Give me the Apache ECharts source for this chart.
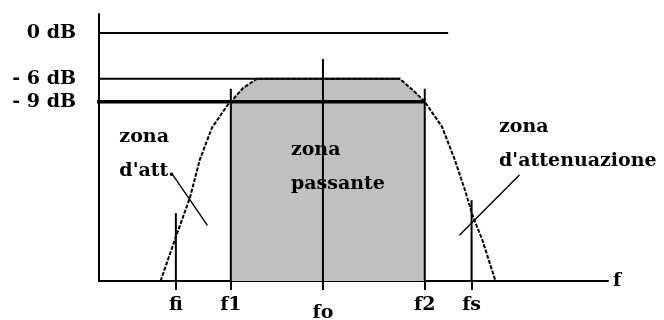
<!DOCTYPE html>
<html>
<head>
<meta charset="utf-8">
<script src="https://cdn.jsdelivr.net/npm/echarts@6/dist/echarts.min.js"></script>
<style>
  html, body { margin: 0; padding: 0; background: #fff; }
  #main { width: 664px; height: 320px; }
</style>
</head>
<body>
<div id="main"></div>
<script>
// levels (dB) and their labels
const levelDb = [0, -6, -9]
const levelLabels = ['0 dB', '- 6 dB', '- 9 dB']
const levelFrom = [-4.3, -3.1, -3.7]
const levelTo = [68.6, 59.1, 64.0]

// frequency markers (arbitrary units 0..100)
const freqNames = ['fi', 'f1', 'fo', 'f2', 'fs']
const freqPos = [15.1, 25.9, 44.0, 64.0, 73.2]
const freqTop = [-23.6, -7.3, -3.4, -7.3, -21.9]

// filter response
const curveF = [12.1, 14.9, 17.9, 19.8, 22.2, 25.3, 25.9, 28.3, 31.0, 59.1, 61.7, 64.0, 67.4, 69.9, 71.9, 73.5, 75.3, 77.9]
const curveDb = [-32.5, -27.1, -21.5, -16.6, -12.4, -9.4, -9, -7.2, -6, -6, -7.5, -9, -12.3, -16.6, -20.6, -24.1, -27.1, -32.5]

// zone texts and pointers
const zoneText = ["zona\nd'att.", 'zona\npassante', "zona\nd'attenuazione"]
const zoneF = [4.0, 37.7, 78.6]
const zoneDb = [-15.9, -17.6, -14.6]
const pointers = [
  [[14.5, -18.6], [21.3, -25.2]],
  [[82.6, -18.6], [70.8, -26.5]]
]

const font = { fontFamily: 'DejaVu Serif', fontWeight: 'bold', fontSize: 19, color: '#000' }

const curve = curveF.map((f, i) => [f, curveDb[i]])
// pass band: from f1 (-9 dB) to f2 (-9 dB)
const band = curve.slice(6, 12)

const series = []
series.push({
  type: 'line', data: band, symbol: 'none', z: 1,
  lineStyle: { opacity: 0 },
  areaStyle: { color: '#c0c0c0', opacity: 1, origin: 'start' }
})
levelDb.forEach((d, i) => {
  series.push({
    type: 'line', symbol: 'none', clip: false, z: 3,
    data: [[levelFrom[i], d], [levelTo[i], d]],
    lineStyle: { color: '#000', width: d === -9 ? 3.5 : 2 }
  })
})
freqPos.forEach((f, i) => {
  series.push({
    type: 'line', symbol: 'none', z: 3,
    data: [[f, freqTop[i]], [f, -32.5]],
    lineStyle: { color: '#000', width: 2 }
  })
})
series.push({
  type: 'line', data: curve, symbol: 'none', clip: false, z: 4,
  lineStyle: { color: '#000', width: 2, type: [4, 1.5] }
})
pointers.forEach(p => {
  series.push({
    type: 'line', data: p, symbol: 'none', z: 4,
    lineStyle: { color: '#000', width: 1.4 }
  })
})
series.push({
  type: 'scatter', symbolSize: 0, clip: false, z: 5, silent: true,
  itemStyle: { color: '#000', opacity: 1 },
  data: zoneText.map((t, i) => ({ name: t, value: [zoneF[i], zoneDb[i]] })),
  label: {
    show: true, position: 'right', distance: 0, align: 'left', opacity: 1,
    lineHeight: 34, formatter: p => p.name, ...font
  }
})

const myChart = echarts.init(document.getElementById('main'))
const option = {
  animation: false,
  grid: { left: 99, right: 56, top: 14, bottom: 39, outerBoundsMode: 'none' },
  xAxis: {
    type: 'value', min: 0, max: 100,
    name: 'f', nameLocation: 'end', nameGap: 5,
    nameTextStyle: { ...font, verticalAlign: 'middle' },
    splitLine: { show: false },
    axisLine: { onZero: false, lineStyle: { color: '#000', width: 2 } },
    axisTick: { customValues: freqPos, length: 9, lineStyle: { color: '#000', width: 2 } },
    axisLabel: {
      customValues: freqPos, margin: 15, ...font,
      formatter: v => {
        const i = freqPos.indexOf(v)
        const n = freqNames[i]
        return n === 'fo' ? '{lo|' + n + '}' : n
      },
      rich: { lo: { ...font, padding: [8, 0, 0, 0] } }
    }
  },
  yAxis: {
    type: 'value', min: -32.5, max: 2.5,
    splitLine: { show: false },
    axisLine: { show: true, onZero: false, lineStyle: { color: '#000', width: 2 } },
    axisTick: { show: false },
    axisLabel: {
      customValues: levelDb, margin: 23, ...font,
      formatter: v => levelLabels[levelDb.indexOf(v)]
    }
  },
  series: series
}
option && myChart.setOption(option)
</script>
</body>
</html>
